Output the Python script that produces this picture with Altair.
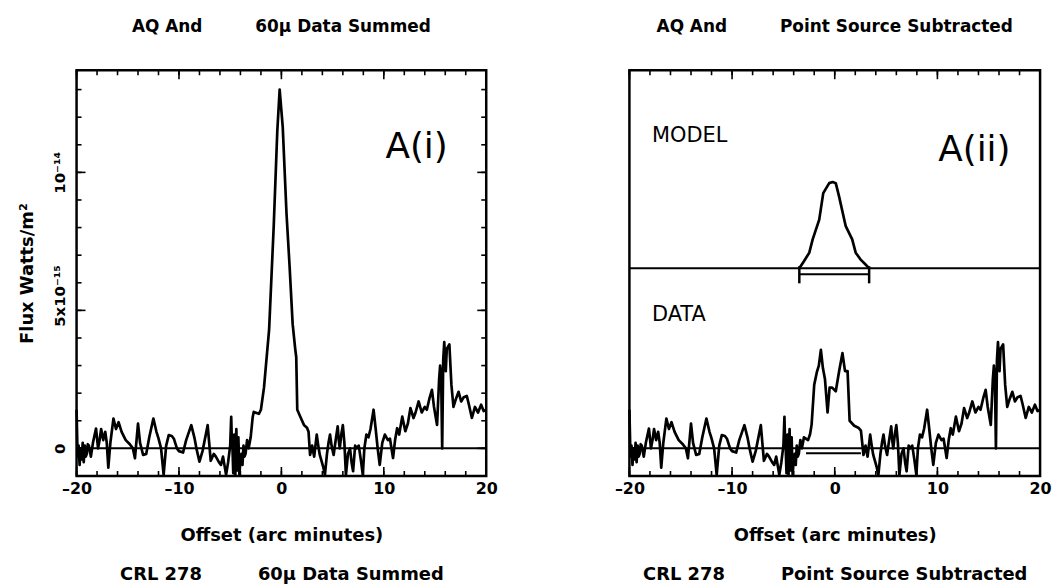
import altair as alt
import pandas as pd

# Scan offsets in arc minutes, flux in units of 1e-15 W/m^2.
# Off-source part of the scan, shared by both panels.
wing_left_x = [-20.0, -19.9, -19.8, -19.7, -19.6, -19.5, -19.4, -19.3, -19.2, -19.1,
               -19.0, -18.9, -18.8, -18.6, -18.4, -18.1, -17.9, -17.75, -17.6, -17.4,
               -17.2, -17.05, -16.9, -16.7, -16.4, -16.15, -15.9, -15.6, -15.2, -14.8,
               -14.5, -14.3, -14.0, -13.8, -13.5, -13.2, -12.9, -12.5, -12.2, -12.0,
               -11.75, -11.5, -11.25, -11.0, -10.7, -10.5, -10.2, -10.0, -9.6, -9.3,
               -8.8, -8.5, -8.3, -8.0, -7.7, -7.2, -6.9, -6.6, -6.4, -6.1,
               -5.9, -5.7, -5.4, -5.2, -5.0, -4.9, -4.85, -4.8, -4.7, -4.65,
               -4.6, -4.5, -4.45, -4.4, -4.3, -4.25, -4.2, -4.1, -4.0, -3.9,
               -3.8, -3.7, -3.6, -3.5, -3.35, -3.2, -3.0]
wing_left_y = [1.4, -0.3, 0.1, -0.6, 0.0, -0.4, 0.2, -0.5, 0.1, -0.3,
               -0.2, 0.15, 0.1, -0.3, 0.2, 0.72, 0.0, 0.3, 0.7, 0.3,
               0.6, 0.2, -0.7, 0.2, 1.08, 0.7, 0.95, 0.6, 0.3, 0.15,
               0.0, -0.36, 0.9, 0.2, -0.24, -0.2, 0.4, 1.08, 0.6, 0.36,
               0.0, -0.96, 0.1, 0.48, 0.45, 0.35, 0.0, -0.1, -0.15, 0.3,
               0.84, 0.4, 0.0, -0.48, -0.1, 0.84, -0.45, -0.2, -0.3, -0.5,
               -0.6, -0.3, -0.96, -0.5, 0.1, 1.14, 0.4, 0.3, -0.9, 0.2,
               0.5, -0.96, 0.0, 0.7, -0.8, 0.1, 0.4, -0.96, -0.4, -0.2,
               -0.6, 0.1, -0.3, -0.2, 0.3, 0.0, 0.4]

wing_right_x = [2.8, 3.0, 3.2, 3.45, 3.6, 3.75, 3.95, 4.1, 4.25, 4.45,
                4.6, 4.75, 4.9, 5.1, 5.3, 5.5, 5.6, 5.7, 5.85, 6.0,
                6.15, 6.3, 6.5, 6.7, 6.85, 7.0, 7.2, 7.35, 7.55, 7.75,
                7.95, 8.1, 8.3, 8.5, 8.7, 9.0, 9.2, 9.4, 9.6, 9.85,
                10.1, 10.4, 10.6, 10.9, 11.1, 11.3, 11.5, 11.8, 12.1, 12.35,
                12.6, 12.9, 13.1, 13.4, 13.7, 14.0, 14.2, 14.45, 14.7, 14.9,
                15.2, 15.4, 15.5, 15.6, 15.7, 15.8, 15.9, 16.05, 16.15, 16.4,
                16.6, 16.8, 17.05, 17.3, 17.55, 17.8, 18.1, 18.3, 18.6, 18.9,
                19.2, 19.5, 19.75, 20.0]
wing_right_y = [-0.24, 0.1, -0.3, 0.5, 0.1, -0.24, -0.5, -0.7, -0.96, -0.2,
                0.2, 0.5, 0.1, -0.24, 0.3, 0.8, 0.3, 0.0, 0.5, 0.84,
                0.2, -0.96, -0.2, 0.0, -0.5, -0.83, 0.1, 0.0, 0.1, -0.4,
                -0.96, 0.0, 0.5, 0.4, 0.7, 1.4, 0.72, 0.0, -0.6, 0.2,
                0.5, 0.3, 0.35, -0.35, 0.3, 0.73, 0.5, 1.15, 0.62, 0.9,
                1.46, 1.1, 1.3, 1.7, 1.3, 1.5, 1.4, 1.8, 2.12, 1.5,
                0.85, 2.5, 3.0, 2.6, 0.0, 3.2, 3.85, 2.8, 3.6, 3.77,
                2.3, 1.5, 1.8, 2.05, 1.7, 1.85, 1.9, 1.6, 1.1, 1.5,
                1.3, 1.58, 1.35, 1.4]

# On-source part: summed data (left) and point-source-subtracted residual (right)
summed_x = [-2.8, -2.7, -2.2, -2.0, -1.7, -1.2, -0.75, -0.4, -0.17, 0.13,
            0.5, 0.8, 1.1, 1.35, 1.45, 1.55, 1.9, 2.2, 2.5, 2.65]
summed_y = [1.14, 1.32, 1.25, 1.4, 2.2, 4.3, 8.05, 11.5, 13.0, 11.65,
            8.5, 6.6, 4.5, 3.6, 3.3, 1.4, 1.1, 0.85, 0.75, 0.6]

resid_x = [-2.6, -2.4, -2.25, -2.0, -1.75, -1.55, -1.35, -1.15, -0.95, -0.7,
           -0.5, -0.25, 0.1, 0.43, 0.75, 1.0, 1.25, 1.45, 1.9, 2.3, 2.55]
resid_y = [0.3, 0.52, 0.87, 2.3, 2.75, 3.0, 3.57, 2.9, 2.5, 1.3,
           2.2, 2.2, 2.07, 2.8, 3.45, 2.8, 2.8, 1.0, 0.82, 0.75, 0.64]

# Model profile of the extended emission, drawn above the data
model_x = [-3.45, -3.0, -2.48, -2.15, -1.51, -1.12, -0.54, -0.2, 0.1, 0.42,
           1.07, 1.7, 2.04, 2.5, 3.0, 3.34]
model_y = [0.0, 0.25, 0.56, 1.04, 1.76, 2.72, 3.08, 3.12, 3.08, 2.6,
           1.52, 1.04, 0.56, 0.32, 0.13, 0.0]
model_level = 6.53          # flux level of the model's zero line
model_bar = [-3.45, 3.35]   # extent of the model bar
data_bar = [-2.8, 2.55]     # extent of the subtracted-source bar

x_ticks_minor = list(range(-20, 21, 2))
x_ticks_major = [-20, -10, 0, 10, 20]
y_ticks_minor = list(range(0, 14))
y_ticks_major = [0, 5, 10]

FONT = "DejaVu Sans"
W, H = 412, 408
XDOM = [-20, 20]
YDOM = [-1.0, 13.7]
NB = "\u00a0"


def series(parts):
    rows = []
    for xs_, ys_ in parts:
        for x, y in zip(xs_, ys_):
            rows.append({"x": x, "y": y})
    df = pd.DataFrame(rows)
    df["i"] = range(len(df))
    return df


left_df = series([(wing_left_x, wing_left_y), (summed_x, summed_y),
                  (wing_right_x, wing_right_y)])
right_df = series([(wing_left_x, wing_left_y), (resid_x, resid_y),
                   (wing_right_x, wing_right_y)])
model_df = pd.DataFrame({"x": model_x, "y": [v + model_level for v in model_y]})

xs = alt.Scale(domain=XDOM, nice=False, zero=False)
ys = alt.Scale(domain=YDOM, nice=False, zero=False)

label_expr_x = "datum.value < 0 ? '\u2013' + abs(datum.value) : '' + datum.value"


def x_axis(caption):
    return alt.Axis(values=x_ticks_major, labelExpr=label_expr_x, ticks=False,
                    domain=False, grid=False, labelFlush=False, labelFont=FONT,
                    labelFontWeight="bold", labelFontSize=16, labelColor="black",
                    labelPadding=5,
                    title=["Offset (arc minutes)", caption], titleFont=FONT,
                    titleFontWeight="bold", titleFontSize=18, titleColor="black",
                    titlePadding=30, titleLineHeight=39)


def X(field="x"):
    return alt.X(field + ":Q", scale=xs)


def Y(field="y", hide=False):
    if hide:
        return alt.Y(field + ":Q", scale=ys, axis=None)
    return alt.Y(field + ":Q", scale=ys)


def tick_layers():
    minor_x = pd.DataFrame({"x": x_ticks_minor})
    major_x = pd.DataFrame({"x": x_ticks_major})
    layers = []
    for df, ln in [(minor_x, 5), (major_x, 9)]:
        base = alt.Chart(df).mark_rule(color="black", strokeWidth=1.6)
        layers.append(base.encode(x=X(), y=alt.value(H), y2=alt.value(H - ln)))
        layers.append(base.encode(x=X(), y=alt.value(0), y2=alt.value(ln)))
    return layers


def y_tick_layers():
    minor_y = pd.DataFrame({"y": y_ticks_minor})
    major_y = pd.DataFrame({"y": y_ticks_major})
    layers = []
    for df, ln in [(minor_y, 5), (major_y, 9)]:
        base = alt.Chart(df).mark_rule(color="black", strokeWidth=1.6)
        layers.append(base.encode(y=Y(), x=alt.value(0), x2=alt.value(ln)))
        layers.append(base.encode(y=Y(), x=alt.value(W), x2=alt.value(W - ln)))
    return layers


def level_rule(level, hide, width=2):
    return alt.Chart(pd.DataFrame({"y": [level]})).mark_rule(
        color="black", strokeWidth=width).encode(y=Y(hide=hide))


def label(text, x, y, size, hide, weight="normal", align="center"):
    return alt.Chart(pd.DataFrame({"x": [x], "y": [y], "t": [text]})).mark_text(
        font=FONT, fontSize=size, fontWeight=weight, align=align, baseline="middle",
        color="black").encode(x=X(), y=Y(hide=hide), text="t:N")


def bar(extent, level, gap, caps):
    df = pd.DataFrame({"x": [extent[0]], "x2": [extent[1]], "y": [level - gap]})
    layers = [alt.Chart(df).mark_rule(color="black", strokeWidth=2).encode(
        x=X(), x2="x2:Q", y=Y(hide=True))]
    if caps:
        cdf = pd.DataFrame({"x": extent, "y": [level + 0.07] * 2, "y2": [level - 0.55] * 2})
        layers.append(alt.Chart(cdf).mark_rule(color="black", strokeWidth=2.5).encode(
            x=X(), y=Y(hide=True), y2="y2:Q"))
    return layers


def title(text):
    return alt.TitleParams(text=text, font=FONT, fontWeight="bold", fontSize=17,
                           color="black", anchor="middle", offset=34)


left_line = alt.Chart(left_df).mark_line(color="black", strokeWidth=2.7,
                                          strokeJoin="round").encode(
    x=alt.X("x:Q", scale=xs,
            axis=x_axis("CRL 278" + NB * 9 + "60\u03bc Data Summed")),
    y=alt.Y("y:Q", scale=ys,
            axis=alt.Axis(values=y_ticks_major, ticks=False, domain=False, grid=False,
                          labelExpr="datum.value == 0 ? '0' : datum.value == 5 ? "
                                    "'5x10\u207b\u00b9\u2075' : '10\u207b\u00b9\u2074'",
                          labelAngle=270, labelAlign="center", labelBaseline="bottom",
                          labelOffset={"condition": {"test": "datum.value == 5",
                                                     "value": -15},
                                       "value": 0},
                          labelFont=FONT, labelFontWeight="bold", labelFontSize=15,
                          labelColor="black", labelPadding=9,
                          title="Flux Watts/m\u00b2", titleFont=FONT,
                          titleFontWeight="bold", titleFontSize=18, titleColor="black",
                          titlePadding=16)),
    order="i:Q")

left = alt.layer(
    left_line, level_rule(0, False), *tick_layers(), *y_tick_layers(),
    label("A(i)", 13.2, 10.9, 36, False),
).properties(width=W, height=H,
             title=title("AQ And" + NB * 9 + "60\u03bc Data Summed"))

right_line = alt.Chart(right_df).mark_line(color="black", strokeWidth=2.7,
                                           strokeJoin="round").encode(
    x=alt.X("x:Q", scale=xs,
            axis=x_axis("CRL 278" + NB * 9 + "Point Source Subtracted")),
    y=Y(hide=True),
    order="i:Q")

model_line = alt.Chart(model_df).mark_line(color="black", strokeWidth=2.7,
                                           strokeJoin="round").encode(
    x=X(), y=Y(hide=True))

right = alt.layer(
    right_line, level_rule(0, True), level_rule(model_level, True), model_line,
    *bar(model_bar, model_level, 0.22, True), *bar(data_bar, 0.0, 0.18, False),
    *tick_layers(),
    label("A(ii)", 13.6, 10.8, 36, True),
    label("MODEL", -17.8, 11.3, 21, True, align="left"),
    label("DATA", -17.8, 4.84, 21, True, align="left"),
).properties(width=W + 1, height=H,
             title=title("AQ And" + NB * 9 + "Point Source Subtracted"))

chart = alt.hconcat(left, right, spacing=114).properties(
    padding={"left": 17, "top": 14, "right": 0, "bottom": 0},
    background="white",
).configure_view(stroke="black", strokeWidth=2.5)

chart.save("out.html", embed_options={"renderer": "svg", "actions": False})
